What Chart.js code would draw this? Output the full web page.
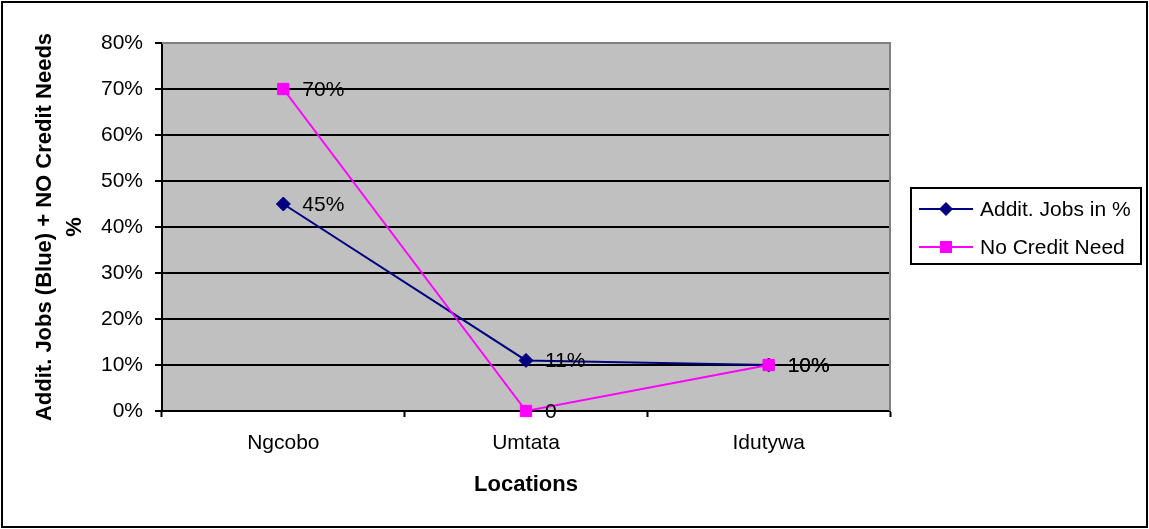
<!DOCTYPE html>
<html>
<head>
<meta charset="utf-8">
<script src="https://cdn.jsdelivr.net/npm/chart.js@4/dist/chart.umd.min.js"></script>
<style>
  body { margin: 0; background: #fff; }
  canvas { display: block; }
</style>
</head>
<body>
<canvas id="jobsChart" width="1149" height="529"></canvas>
<script>
// Data
const locations = ['Ngcobo', 'Umtata', 'Idutywa'];
const additJobs = [45, 11, 10];
const noCreditNeed = [70, 0, 10];
const additJobsLabels = ['45%', '11%', '10%'];
const noCreditLabels = ['70%', '0', '10%'];
const yTicks = [0, 10, 20, 30, 40, 50, 60, 70, 80];

const FONT = '"Liberation Sans", Arial, sans-serif';
const NAVY = '#000080';
const PINK = '#FF00FF';

Chart.defaults.font.family = FONT;
Chart.defaults.color = '#000';

// Background, frame and plot area fill
const frame = {
    id: 'frame',
    beforeDraw(chart) {
        const ctx = chart.ctx;
        const a = chart.chartArea;
        ctx.save();
        ctx.fillStyle = '#fff';
        ctx.fillRect(0, 0, chart.width, chart.height);
        ctx.fillStyle = '#C0C0C0';
        ctx.fillRect(a.left, a.top, a.right - a.left, a.bottom - a.top);
        ctx.lineWidth = 2;
        ctx.strokeStyle = '#000';
        ctx.strokeRect(2, 2, chart.width - 4, chart.height - 4);
        ctx.restore();
    },
    beforeDatasetsDraw(chart) {
        const ctx = chart.ctx;
        const a = chart.chartArea;
        ctx.save();
        ctx.strokeStyle = '#808080';
        ctx.lineWidth = 2;
        ctx.beginPath();
        ctx.moveTo(a.left, a.top);
        ctx.lineTo(a.right, a.top);
        ctx.lineTo(a.right, a.bottom);
        ctx.stroke();
        ctx.restore();
    }
};

// Point labels next to each marker
const pointLabels = {
    id: 'pointLabels',
    afterDatasetsDraw(chart) {
        const ctx = chart.ctx;
        ctx.save();
        ctx.font = '21px ' + FONT;
        ctx.fillStyle = '#000';
        ctx.textBaseline = 'middle';
        ctx.textAlign = 'left';
        chart.data.datasets.forEach(function (ds, i) {
            const meta = chart.getDatasetMeta(i);
            meta.data.forEach(function (pt, j) {
                ctx.fillText(ds.pointText[j], pt.x + 19, pt.y + 1);
            });
        });
        ctx.restore();
    }
};

// Legend with frame
const boxLegend = {
    id: 'boxLegend',
    afterDraw(chart) {
        const ctx = chart.ctx;
        const x0 = 911, y0 = 188, w = 230, h = 76;
        ctx.save();
        ctx.fillStyle = '#fff';
        ctx.fillRect(x0, y0, w, h);
        ctx.lineWidth = 2;
        ctx.strokeStyle = '#000';
        ctx.strokeRect(x0, y0, w, h);
        const rows = [209, 247];
        chart.data.datasets.forEach(function (ds, i) {
            const y = rows[i];
            ctx.strokeStyle = ds.borderColor;
            ctx.lineWidth = 2;
            ctx.beginPath();
            ctx.moveTo(919, y);
            ctx.lineTo(973, y);
            ctx.stroke();
            ctx.fillStyle = ds.pointBackgroundColor;
            ctx.beginPath();
            if (ds.pointStyle === 'rectRot') {
                ctx.moveTo(946 - 7, y);
                ctx.lineTo(946, y - 7);
                ctx.lineTo(946 + 7, y);
                ctx.lineTo(946, y + 7);
                ctx.closePath();
            } else {
                ctx.rect(940, y - 6, 12, 12);
            }
            ctx.fill();
            ctx.fillStyle = '#000';
            ctx.font = '21px ' + FONT;
            ctx.textBaseline = 'middle';
            ctx.fillText(ds.label, 980, y + 1);
        });
        ctx.restore();
    }
};

const ctx = document.getElementById('jobsChart').getContext('2d');

new Chart(ctx, {
    type: 'line',
    data: {
        labels: locations,
        datasets: [{
            label: 'Addit. Jobs in %',
            data: additJobs,
            pointText: additJobsLabels,
            borderColor: NAVY,
            backgroundColor: NAVY,
            borderWidth: 2,
            pointStyle: 'rectRot',
            pointRadius: 7,
            pointBorderWidth: 1,
            pointBackgroundColor: NAVY,
            pointBorderColor: NAVY,
            tension: 0,
            clip: false,
            order: 1
        }, {
            label: 'No Credit Need',
            data: noCreditNeed,
            pointText: noCreditLabels,
            borderColor: PINK,
            backgroundColor: PINK,
            borderWidth: 2,
            pointStyle: 'rect',
            pointRadius: 8,
            pointBorderWidth: 1,
            pointBackgroundColor: PINK,
            pointBorderColor: PINK,
            tension: 0,
            clip: false,
            order: 0
        }]
    },
    options: {
        responsive: false,
        animation: false,
        events: [],
        layout: {
            padding: { left: 0, right: 259, top: 43, bottom: 0 }
        },
        plugins: {
            legend: { display: false },
            tooltip: { enabled: false }
        },
        scales: {
            x: {
                offset: true,
                afterFit: function (scale) { scale.height = 118; },
                grid: {
                    offset: true,
                    drawOnChartArea: false,
                    drawTicks: true,
                    tickLength: 6,
                    tickWidth: 2,
                    tickColor: '#000'
                },
                border: { color: '#000', width: 2 },
                ticks: {
                    padding: 14,
                    font: { size: 21 },
                    maxRotation: 0
                },
                title: {
                    display: true,
                    text: 'Locations',
                    font: { size: 22, weight: 'bold', lineHeight: 1.2 },
                    padding: { top: 0, bottom: 31 }
                }
            },
            y: {
                min: 0,
                max: 80,
                afterFit: function (scale) { scale.width = 162; },
                afterBuildTicks: function (scale) {
                    scale.ticks = yTicks.map(function (v) { return { value: v }; });
                },
                grid: {
                    color: function (c) { return c.tick && c.tick.value === 80 ? '#808080' : '#000'; },
                    lineWidth: 2,
                    tickLength: 7,
                    tickColor: '#000'
                },
                border: { color: '#000', width: 2 },
                ticks: {
                    padding: 12,
                    font: { size: 21 },
                    callback: function (v) { return v + '%'; }
                },
                title: {
                    display: true,
                    text: ['Addit. Jobs (Blue) + NO Credit Needs', '%'],
                    font: { size: 22, weight: 'bold', lineHeight: 1.36 },
                    padding: { top: 30, bottom: 0 }
                }
            }
        }
    },
    plugins: [frame, pointLabels, boxLegend]
});
</script>
</body>
</html>
